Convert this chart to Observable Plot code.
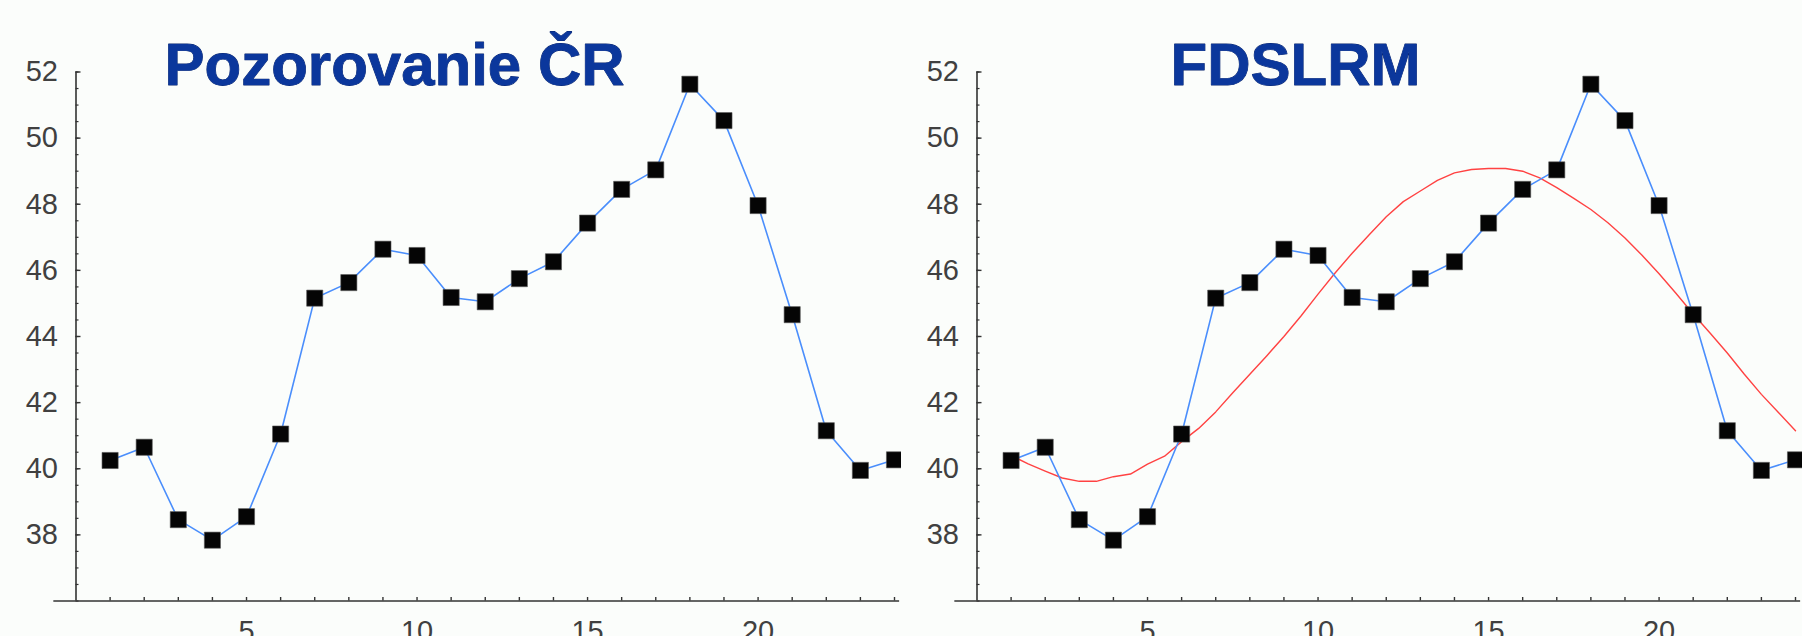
<!DOCTYPE html>
<html>
<head>
<meta charset="utf-8">
<script src="https://cdn.jsdelivr.net/npm/d3@7"></script>
<script src="https://cdn.jsdelivr.net/npm/@observablehq/plot@0.6"></script>
<style>
  html, body { margin: 0; padding: 0; background: #fbfdfb; }
  #wrap { display: flex; width: 1802px; height: 636px; overflow: hidden; }
  #wrap svg { display: block; background: #fbfdfb; }
</style>
</head>
<body>
<div id="wrap"></div>
<script>
// ---- data ----
const months = [1,2,3,4,5,6,7,8,9,10,11,12,13,14,15,16,17,18,19,20,21,22,23,24];
const observed = [40.25,40.65,38.46,37.84,38.55,41.05,45.16,45.63,46.64,46.45,45.18,45.05,
                  45.75,46.26,47.43,48.45,49.04,51.63,50.53,47.96,44.66,41.15,39.95,40.27];
const fitX = [1,1.5,2,2.5,3,3.5,4,4.5,5,5.5,6,6.5,7,7.5,8,8.5,9,9.5,10,10.5,11,11.5,12,12.5,
              13,13.5,14,14.5,15,15.5,16,16.5,17,17.5,18,18.5,19,19.5,20,20.5,21,21.5,22,22.5,23,23.5,24];
const fitY = [40.40,40.15,39.93,39.72,39.62,39.62,39.76,39.84,40.14,40.38,40.82,41.22,41.72,42.30,
              42.86,43.42,44.00,44.62,45.28,45.92,46.52,47.08,47.62,48.08,48.40,48.72,48.95,49.05,
              49.08,49.08,49.00,48.80,48.50,48.18,47.84,47.44,46.98,46.46,45.90,45.30,44.68,44.10,
              43.50,42.86,42.25,41.70,41.15];
const titles = ["Pozorovanie ČR", "FDSLRM"];
const yMajorTicks = [38,40,42,44,46,48,50,52];
const yMinorTicks = d3.range(36, 52.01, 0.5);
const xTickValues = d3.range(1, 25);
const xLabelled = [5,10,15,20];
const yDomain = [36, 52];
const xDomain = [0, 24];
const xAxisExtent = [-0.65, 24.15];

const rows = months.map((m, i) => ({x: m, y: observed[i]}));
const fit = fitX.map((x, i) => ({x, y: fitY[i]}));

const tickFont = {fontFamily: "Liberation Sans Narrow, Liberation Sans, Arial, sans-serif", fontSize: 29, fill: "#404040"};

function panel(title, withFit) {
  return Plot.plot({
    width: 901,
    height: 636,
    marginLeft: 75.5,
    marginRight: 7,
    marginTop: 71.5,
    marginBottom: 35.5,
    style: {background: "#fbfdfb", overflow: "visible"},
    x: {domain: xDomain, label: null},
    y: {domain: yDomain, label: null},
    marks: [
      // axis lines
      Plot.ruleX([0], {y1: yDomain[0], y2: yDomain[1], stroke: "#333", strokeWidth: 1.6}),
      Plot.ruleY([yDomain[0]], {x1: xAxisExtent[0], x2: xAxisExtent[1], stroke: "#333", strokeWidth: 1.6}),
      // y ticks (inside, to the right)
      Plot.axisY(yMinorTicks, {anchor: "left", tickSize: -3, tickFormat: () => "", label: null, stroke: "#333", strokeWidth: 1.2}),
      Plot.axisY(yMajorTicks, {anchor: "left", tickSize: -5, tickPadding: 23, label: null, stroke: "#333", strokeWidth: 1.4, ...tickFont}),
      // x ticks (upward)
      Plot.axisX(xTickValues, {anchor: "bottom", tickSize: -3.5, tickPadding: 23, label: null,
        tickFormat: d => xLabelled.includes(d) ? String(d) : "", stroke: "#333", strokeWidth: 1.4, ...tickFont}),
      // fitted curve
      withFit ? Plot.line(fit, {x: "x", y: "y", stroke: "#ff4242", strokeWidth: 1.4}) : null,
      // observations
      Plot.line(rows, {x: "x", y: "y", stroke: "#4a8efc", strokeWidth: 1.6}),
      Plot.dot(rows, {x: "x", y: "y", symbol: "square", r: 9.1, fill: "#050505", stroke: "#555", strokeWidth: 0.6}),
      // title
      Plot.text([title], {frameAnchor: "top-left", text: d => d, dx: 318.5, dy: 12.5,
        textAnchor: "middle", lineAnchor: "bottom", fontFamily: "Liberation Sans, Arial, sans-serif",
        fontWeight: "bold", fontSize: 60, fill: "#0b379c", stroke: "#08256e", strokeWidth: 0.8})
    ]
  });
}

const wrap = document.getElementById("wrap");
wrap.appendChild(panel(titles[0], false));
wrap.appendChild(panel(titles[1], true));
</script>
</body>
</html>
